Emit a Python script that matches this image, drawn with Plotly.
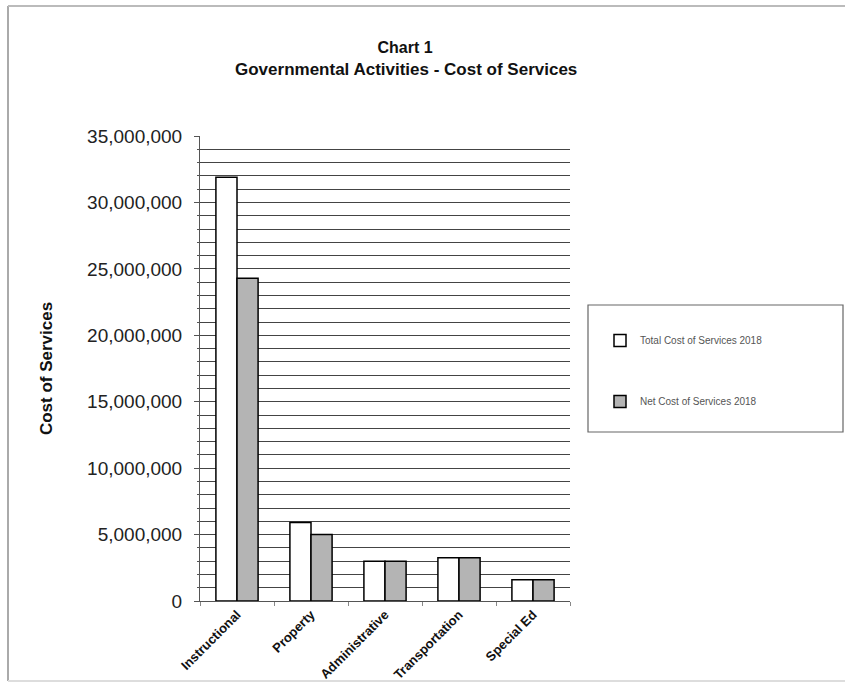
import plotly.graph_objects as go

categories = ["Instructional", "Property", "Administrative", "Transportation", "Special Ed"]
total_cost = [31900000, 5900000, 3000000, 3250000, 1600000]
net_cost = [24300000, 5000000, 3000000, 3250000, 1600000]
series_names = ["Total Cost of Services 2018", "Net Cost of Services 2018"]
title_line1 = "Chart 1"
title_line2 = "Governmental Activities - Cost of Services"

W, H = 845, 687
L, R, T, B = 200, 275, 136, 86
pw, ph = W - L - R, H - T - B

def px(x):
    return (x - L) / pw

def py(y):
    return (H - B - y) / ph

fig = go.Figure()
fig.add_trace(go.Bar(x=categories, y=total_cost, name=series_names[0], legendgroup="a",
                     marker=dict(color="white", line=dict(color="black", width=1.5))))
fig.add_trace(go.Bar(x=categories, y=net_cost, name=series_names[1], legendgroup="b",
                     marker=dict(color="#b4b4b4", line=dict(color="black", width=1.5))))

fig.update_layout(
    width=W, height=H,
    margin=dict(l=L, r=R, t=T, b=B, autoexpand=False),
    paper_bgcolor="white", plot_bgcolor="white",
    barmode="group", bargap=0.43, bargroupgap=0,
    font=dict(family="Liberation Sans, Arial", color="#222"),
    title=dict(text="<b>" + title_line1 + "</b>",
               x=405 / W, xanchor="center", y=1 - 47 / H, yanchor="middle",
               font=dict(size=16, color="#111")),
    annotations=[
        dict(text="<b>" + title_line2 + "</b>", xref="paper", yref="paper",
             x=px(406), y=py(69), xanchor="center", yanchor="middle",
             showarrow=False, font=dict(size=17, color="#111")),
    ],
    showlegend=True,
    legend=dict(x=px(600), y=py(326), xanchor="left", yanchor="top",
                bgcolor="rgba(0,0,0,0)", borderwidth=0,
                font=dict(size=10, color="#555"), tracegroupgap=42,
                itemwidth=30),
    shapes=[
        dict(type="rect", xref="paper", yref="paper", x0=px(588), x1=px(843),
             y0=py(432), y1=py(305), line=dict(color="#666", width=1.2)),
        dict(type="line", xref="paper", yref="paper", x0=px(8), x1=px(8),
             y0=py(6), y1=py(681), line=dict(color="#aaa", width=2)),
        dict(type="line", xref="paper", yref="paper", x0=px(8), x1=px(845),
             y0=py(6), y1=py(6), line=dict(color="#bbb", width=2)),
        dict(type="line", xref="paper", yref="paper", x0=px(8), x1=px(845),
             y0=py(681), y1=py(681), line=dict(color="#ddd", width=2)),
    ],
)

fig.update_yaxes(
    range=[0, 35000000], dtick=5000000, tickformat=",",
    showgrid=True, gridcolor="#444", gridwidth=1,
    minor=dict(dtick=1000000, showgrid=True, gridcolor="#444", gridwidth=1,
               ticks="outside", ticklen=2, tickcolor="#555"),
    showline=True, linecolor="#555", linewidth=1,
    ticks="outside", ticklen=5, tickcolor="#555",
    ticklabelstandoff=8,
    tickfont=dict(size=19, color="#222"),
    zeroline=False, automargin=False,
    title=dict(text="<b>Cost of Services</b>", font=dict(size=17, color="#111"), standoff=30),
)
fig.update_xaxes(
    showline=True, linecolor="#555", linewidth=1,
    ticks="outside", ticklen=4, tickcolor="#888", tickson="boundaries",
    tickangle=-45, tickfont=dict(size=13, color="#111"),
    tickprefix="<b>", ticksuffix="</b>",
    showgrid=False, automargin=False,
)

fig.write_html("out.html")
